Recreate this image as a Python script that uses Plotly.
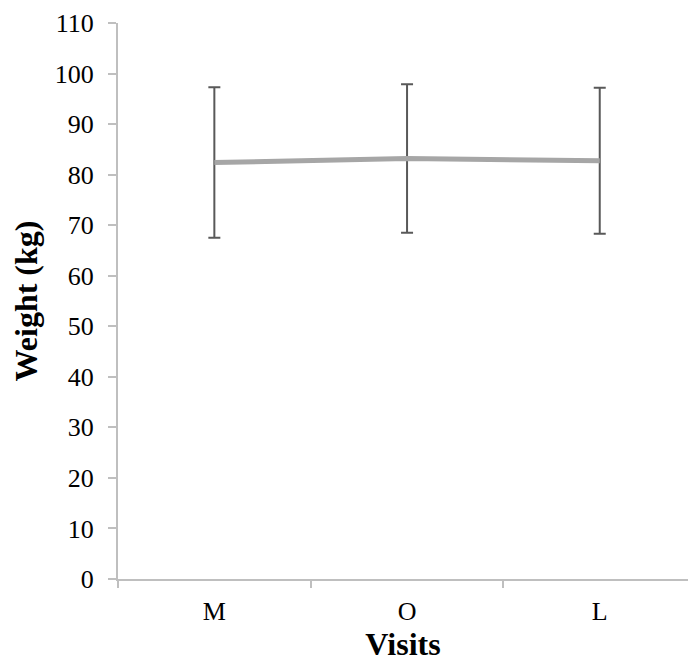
import plotly.graph_objects as go

visits = ["M", "O", "L"]
weight = [82.4, 83.2, 82.75]
weight_err = [14.9, 14.7, 14.45]
y_ticks = list(range(0, 111, 10))

font_family = "Liberation Serif"

fig = go.Figure()
fig.add_trace(go.Scatter(
    x=visits, y=weight, mode="lines",
    line=dict(color="#A6A6A6", width=5),
    error_y=dict(type="data", array=weight_err, visible=True,
                 color="#595959", thickness=2, width=6),
    showlegend=False, hoverinfo="skip",
))

fig.update_layout(
    width=688, height=664,
    margin=dict(l=118, r=0, t=23, b=85),
    paper_bgcolor="white", plot_bgcolor="white",
    font=dict(family=font_family, color="black", size=26),
    xaxis=dict(
        type="category", range=[-0.5, 2.458],
        showline=True, linecolor="#BFBFBF", linewidth=2,
        ticks="outside", tickson="boundaries", ticklen=7, tickcolor="#BFBFBF", tickwidth=2,
        showgrid=False, zeroline=False,
        tickfont=dict(family=font_family, size=26),
        ticklabelstandoff=8,
        title=dict(text="<b>Visits</b>", font=dict(family=font_family, size=32), standoff=5),
    ),
    yaxis=dict(
        range=[0, 110], tickvals=y_ticks,
        showline=True, linecolor="#BFBFBF", linewidth=2,
        ticks="outside", ticklen=8, tickcolor="#BFBFBF", tickwidth=2,
        showgrid=False, zeroline=False,
        tickfont=dict(family=font_family, size=26),
        ticklabelstandoff=9,
        title=dict(text="<b>Weight (kg)</b>", font=dict(family=font_family, size=32), standoff=8),
    ),
)

fig.write_html("out.html")
